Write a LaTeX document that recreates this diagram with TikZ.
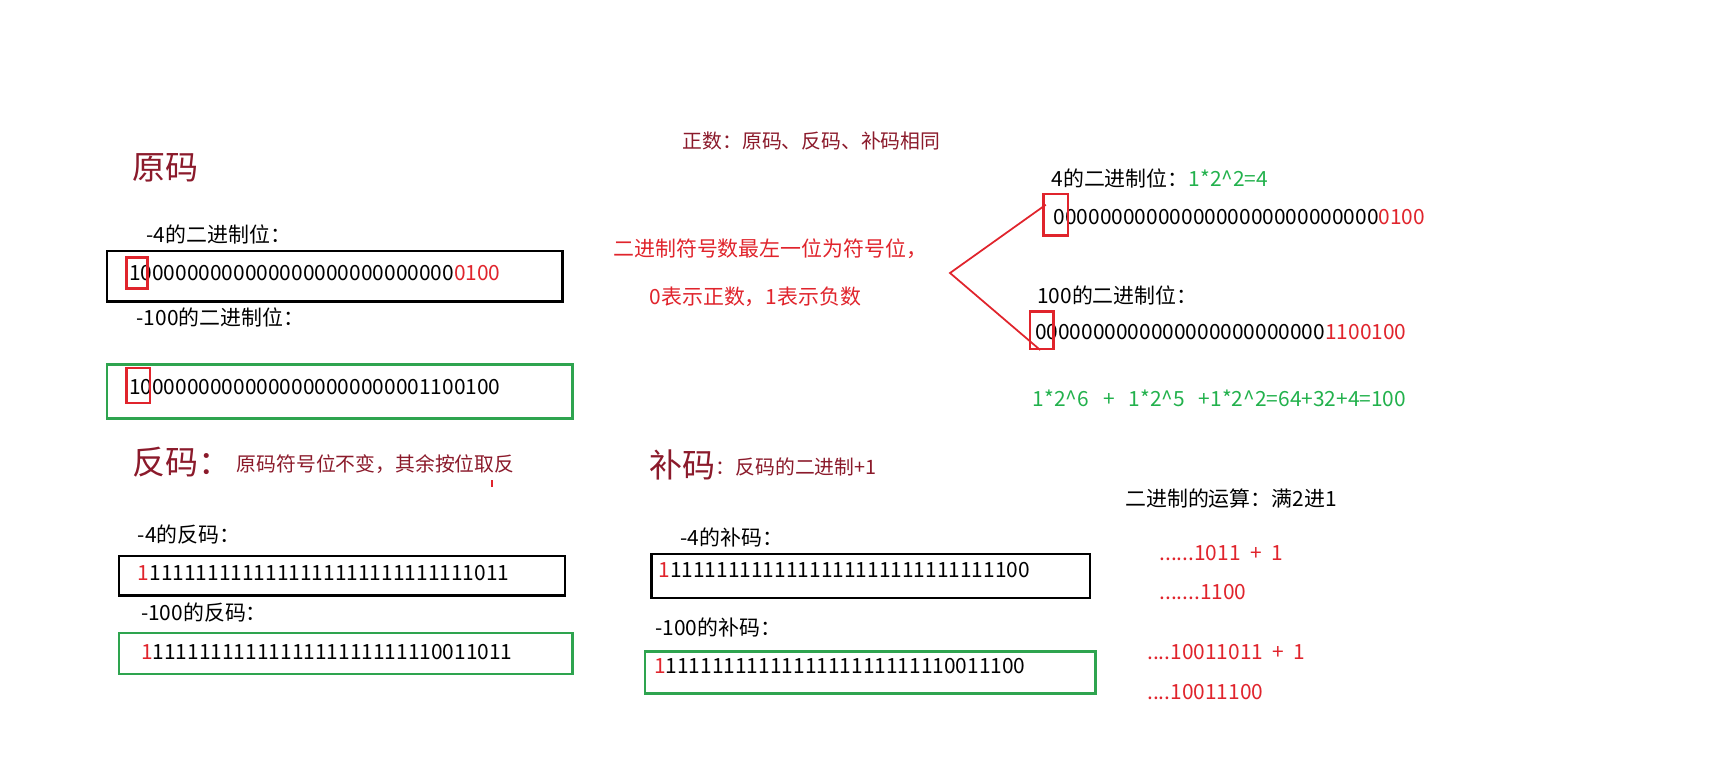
\documentclass[tikz,border=0pt]{standalone}
\usepackage{fontspec}
\setmainfont{Noto Sans CJK SC}
\definecolor{dred}{HTML}{8B1A2B}
\definecolor{bred}{HTML}{E0242C}
\definecolor{bgreen}{HTML}{22B14C}
\definecolor{gbox}{HTML}{2EA44F}
\begin{document}
\begin{tikzpicture}[x=1pt,y=-1pt,
  t/.style={anchor=west,inner sep=0pt,font=\fontsize{19}{19}\selectfont},
  big/.style={anchor=west,inner sep=0pt,font=\fontsize{30}{30}\selectfont,text=dred},
  mid/.style={anchor=west,inner sep=0pt,font=\fontsize{18}{18}\selectfont,text=dred},
  rt/.style={t,text=bred},
  blackbox/.style={draw=black,line width=2.2pt},
  greenbox/.style={draw=gbox,line width=2.2pt},
  redbox/.style={draw=bred,line width=2pt}]
\useasboundingbox (0,0) rectangle (1567,687);
% left column
\node[big] (yuanma) at (120,152) {原码};
\node[mid] (zs) at (620,128) {正数：原码、反码、补码相同};
\node[t] (l1) at (133,213) {-4的二进制位：};
\draw[blackbox] (97,228) rectangle (511,274);
\node[t] (b1) at (117,248) {1000000000000000000000000000\textcolor{bred}{0100}};
\draw[redbox] (115,234) rectangle (134,262);
\node[t] (l2) at (124,288) {-100的二进制位：};
\draw[greenbox] (97,331) rectangle (520,380);
\node[t] (b2) at (117,352) {10000000000000000000000001100100};
\draw[redbox] (115,334) rectangle (136,366);
% center red text
\node[rt] (c1) at (557,226) {二进制符号数最左一位为符号位，};
\node[rt] (c2) at (590,270) {0表示正数，1表示负数};
\coordinate (tip) at (863,248);
\coordinate (up) at (950,186);
\coordinate (dn) at (945,318);
\draw[bred,line width=1.6pt] (up) -- (tip) -- (dn);
% right top
\node[t] (r1) at (955,162) {4的二进制位：\textcolor{bgreen}{1*2\^{}2=4}};
\node[t] (r2) at (957,197) {0000000000000000000000000000\textcolor{bred}{0100}};
\draw[redbox] (948,176) rectangle (970,214);
\node[t] (r3) at (942,268) {100的二进制位：};
\node[t] (r4) at (940,302) {0000000000000000000000000\textcolor{bred}{1100100}};
\draw[redbox] (936,283) rectangle (957,317);
\node[t,text=bgreen] (r5) at (938,362) {1*2\^{}6 \ \ + \ \ 1*2\^{}5 \ \ +1*2\^{}2=64+32+4=100};
% fanma / buma headers
\node[big] (fanma) at (120,420) {反码：};
\node[mid] (fanm2) at (215,422) {原码符号位不变，其余按位取反};
\fill[bred] (446,436) rectangle (448,442);
\node[big] (buma) at (590,422) {补码};
\node[mid] (buma2) at (650,424) {：反码的二进制+1};
% fanma boxes
\node[t] (f1) at (125,486) {-4的反码：};
\draw[blackbox] (108,505) rectangle (513,541);
\node[t] (f2) at (125,521) {\textcolor{bred}{1}1111111111111111111111111111011};
\node[t] (f3) at (128,556) {-100的反码：};
\draw[greenbox] (108,575) rectangle (520,612);
\node[t] (f4) at (128,592) {\textcolor{bred}{1}1111111111111111111111110011011};
% buma boxes
\node[t] (g1) at (618,488) {-4的补码：};
\draw[blackbox] (592,503) rectangle (990,543);
\node[t] (g2) at (598,518) {\textcolor{bred}{1}1111111111111111111111111111100};
\node[t] (g3) at (595,570) {-100的补码：};
\draw[greenbox] (586,592) rectangle (995,630);
\node[t] (g4) at (594,605) {\textcolor{bred}{1}1111111111111111111111110011100};
% arithmetic
\node[t] (a0) at (1022,453) {二进制的运算：满2进1};
\node[rt] (a1) at (1053,502) {......1011 \ + \ 1};
\node[rt] (a2) at (1053,538) {.......1100};
\node[rt] (a3) at (1042,592) {....10011011 \ + \ 1};
\node[rt] (a4) at (1042,629) {....10011100};
\end{tikzpicture}
\end{document}
